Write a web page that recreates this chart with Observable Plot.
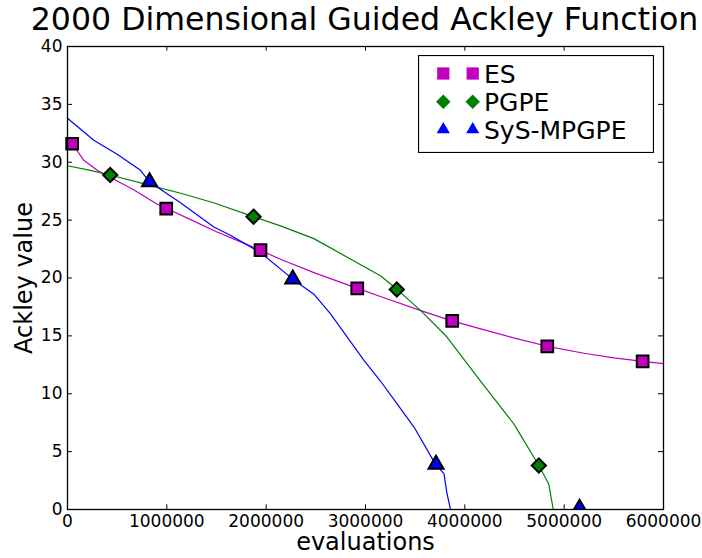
<!DOCTYPE html>
<html><head><meta charset="utf-8">
<script src="https://cdn.jsdelivr.net/npm/d3@7"></script>
<script src="https://cdn.jsdelivr.net/npm/@observablehq/plot@0.6"></script>
<style>
body{margin:0;background:#fff;}
#wrap{position:relative;width:702px;height:558px;font-family:"DejaVu Sans";}
#legend{position:absolute;left:418px;top:55px;}
</style></head>
<body><div id="wrap"></div>
<script>
const title = "2000 Dimensional Guided Ackley Function";
const xLabel = "evaluations";
const yLabel = "Ackley value";
const seriesNames = ["ES", "PGPE", "SyS-MPGPE"];
const seriesColors = ["#bf00bf", "#008000", "#0000ff"];
const xTicks = [0, 1000000, 2000000, 3000000, 4000000, 5000000, 6000000];
const yTicks = [0, 5, 10, 15, 20, 25, 30, 35, 40];

// ES curve
const esX = [0, 50000, 160000, 300000, 430000, 670000, 900000, 1000000, 1250000, 1500000, 1750000, 1940000, 2150000, 2500000, 2920000, 3150000, 3550000, 3870000, 4160000, 4500000, 4830000, 5200000, 5500000, 5790000, 6000000];
const esY = [32.2, 31.6, 30.2, 29.3, 28.7, 27.6, 26.4, 26.0, 25.0, 24.0, 23.1, 22.4, 21.6, 20.4, 19.1, 18.4, 17.2, 16.3, 15.6, 14.8, 14.1, 13.5, 13.1, 12.8, 12.6];
// PGPE curve
const pgX = [0, 230000, 430000, 830000, 1150000, 1470000, 1873000, 2144000, 2480000, 2816000, 3150000, 3320000, 3554000, 3820000, 4158000, 4493000, 4745000, 4845000, 4890000, 6000000];
const pgY = [29.7, 29.3, 28.9, 28.0, 27.3, 26.5, 25.3, 24.5, 23.4, 21.8, 20.2, 19.0, 17.2, 14.9, 11.1, 7.4, 3.8, 2.2, 0, 0];
// SyS-MPGPE curve
const syX = [0, 265000, 500000, 735000, 826000, 1138000, 1473000, 1640000, 1943000, 2268000, 2480000, 2648000, 2816000, 2983000, 3150000, 3320000, 3490000, 3705000, 3790000, 3820000, 3856000, 6000000];
const syY = [33.8, 31.9, 30.7, 29.3, 28.3, 26.5, 24.4, 23.7, 22.2, 19.9, 18.6, 16.9, 14.9, 12.9, 11.1, 9.1, 7.1, 3.9, 3.1, 1.4, 0, 0];

// markers
const esMX = [47000, 994000, 1943000, 2917000, 3873000, 4830000, 5790000];
const esMY = [31.6, 26.0, 22.4, 19.1, 16.3, 14.1, 12.8];
const pgMX = [430000, 1873000, 3315000, 4745000];
const pgMY = [28.9, 25.3, 19.0, 3.8];
const syMX = [826000, 2268000, 3710000, 5155000];
const syMY = [28.3, 19.9, 3.9, 0.1];

const zip = (xs, ys) => xs.map((x, i) => ({x, y: ys[i]}));
const es = zip(esX, esY), pg = zip(pgX, pgY), sy = zip(syX, syY);
const esM = zip(esMX, esMY), pgM = zip(pgMX, pgMY), syM = zip(syMX, syMY);

const chart = Plot.plot({
  width: 702, height: 558,
  marginTop: 46, marginBottom: 49, marginLeft: 67, marginRight: 39,
  style: {fontFamily: "DejaVu Sans", background: "#fff", overflow: "visible", color: "#000"},
  x: {domain: [0, 6000000]},
  y: {domain: [0, 40]},
  marks: [
    Plot.line(es, {x: "x", y: "y", stroke: seriesColors[0], strokeWidth: 1.2}),
    Plot.line(pg, {x: "x", y: "y", stroke: seriesColors[1], strokeWidth: 1.2}),
    Plot.line(sy, {x: "x", y: "y", stroke: seriesColors[2], strokeWidth: 1.2}),
    Plot.dot(esM, {x: "x", y: "y", symbol: "square", r: 6.6, fill: seriesColors[0], stroke: "#000", strokeWidth: 2}),
    Plot.dot(pgM, {x: "x", y: "y", symbol: "diamond2", r: 6.4, fill: seriesColors[1], stroke: "#000", strokeWidth: 2}),
    Plot.dot(syM, {x: "x", y: "y", symbol: "triangle", r: 5.6, fill: seriesColors[2], stroke: "#000", strokeWidth: 2, clip: true}),
    Plot.ruleX(xTicks, {x: d => d, y1: 0, y2: 0.4, stroke: "#000"}),
    Plot.ruleX(xTicks, {x: d => d, y1: 40, y2: 39.6, stroke: "#000"}),
    Plot.ruleY(yTicks, {y: d => d, x1: 0, x2: 50000, stroke: "#000"}),
    Plot.ruleY(yTicks, {y: d => d, x1: 6000000, x2: 5950000, stroke: "#000"}),
    Plot.frame({stroke: "#000", strokeWidth: 1.3}),
    Plot.axisX({ticks: xTicks, tickSize: 0, tickPadding: 5, tickFormat: d3.format("d"), fontSize: 17, label: null}),
    Plot.axisY({ticks: yTicks, tickSize: 0, tickPadding: 5, fontSize: 17, label: null}),
    Plot.text([title], {frameAnchor: "top", lineAnchor: "middle", dy: -27, dx: -1, fontSize: 31.6, fill: "#000"}),
    Plot.text([xLabel], {frameAnchor: "bottom", lineAnchor: "middle", dy: 33, fontSize: 24, fill: "#000"}),
    Plot.text([yLabel], {frameAnchor: "left", textAnchor: "middle", lineAnchor: "middle", dx: -43, rotate: -90, fontSize: 24, fill: "#000"})
  ]
});
const wrap = document.getElementById("wrap");
wrap.appendChild(chart);

// legend
const lw = 236, lh = 98;
const leg = d3.select(wrap).append("svg").attr("id", "legend")
  .attr("width", lw).attr("height", lh)
  .style("font-family", "DejaVu Sans");
leg.append("rect").attr("x", 0.5).attr("y", 0.5).attr("width", lw - 1).attr("height", lh - 1)
  .attr("fill", "#fff").attr("stroke", "#000").attr("stroke-width", 1.2);
const legSymbols = [d3.symbol(d3.symbolSquare, 150), d3.symbol(d3.symbolDiamond2, 135), d3.symbol(d3.symbolTriangle, 75)];
const rowY = [18.5, 46.7, 74.5];
seriesNames.forEach((name, i) => {
  [25.3, 54.7].forEach(cx => {
    leg.append("path").attr("d", legSymbols[i]())
      .attr("transform", `translate(${cx},${rowY[i]})`)
      .attr("fill", seriesColors[i]);
  });
  leg.append("text").attr("x", 66).attr("y", rowY[i] + 9.5)
    .attr("font-size", 25).attr("fill", "#000").text(name);
});
</script>
</body></html>
